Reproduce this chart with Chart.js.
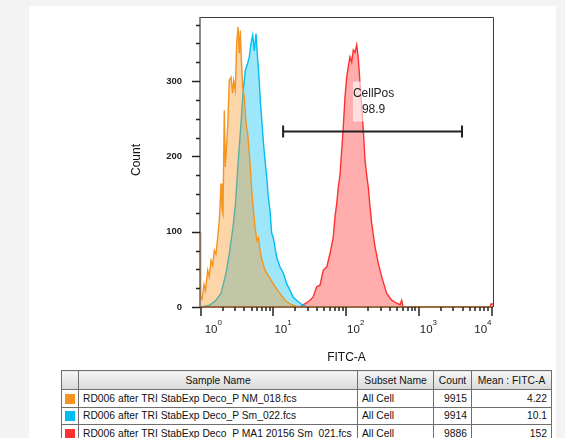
<!DOCTYPE html>
<html>
<head>
<meta charset="utf-8">
<script src="https://cdn.jsdelivr.net/npm/chart.js"></script>
<style>
  html, body { margin: 0; padding: 0; background: #f3f3f3; overflow: hidden; }
  #panel { position: absolute; left: 29px; top: 6px; width: 527px; height: 440px; background: #fff; }
  #wrap { position: absolute; left: 0; top: 0; width: 565px; height: 365px; }
  #stats { position: absolute; left: 61px; top: 370px; width: 490px; table-layout: fixed; border-collapse: collapse;
    font-family: "Liberation Sans", Arial, sans-serif; font-size: 10.3px; color: #111; }
  #stats th, #stats td { border: 1px solid #6e6e6e; padding: 0 4px; white-space: nowrap; overflow: hidden; box-sizing: border-box; }
  #stats th { height: 19px; font-weight: normal; background: linear-gradient(#f6f6f6, #dadada); }
  #stats td { height: 17.5px; }
  #stats td.num { text-align: right; }
  .sw { display: inline-block; width: 10px; height: 10px; vertical-align: middle; margin-left: -1px; }
</style>
</head>
<body>
<div id="panel"></div>
<div id="wrap"><canvas id="histo" width="565" height="365"></canvas></div>
<table id="stats">
  <thead><tr><th style="width:17px"></th><th style="width:279px">Sample Name</th><th style="width:76px">Subset Name</th><th style="width:38px">Count</th><th style="width:80px">Mean : FITC-A</th></tr></thead>
  <tbody id="rows"></tbody>
</table>
<script>
// table
const sampleNames = [
  'RD006 after TRI StabExp Deco_P NM_018.fcs',
  'RD006 after TRI StabExp Deco_P Sm_022.fcs',
  'RD006 after TRI StabExp Deco_P MA1 20156 Sm_021.fcs'
];
const subsetNames = ['All Cell', 'All Cell', 'All Cell'];
const cellCounts = [9915, 9914, 9886];
const meanFitc = ['4.22', '10.1', '152'];
const lineColors = ['#F7941E', '#00BEF2', '#FF3030'];
const fillColors = ['rgba(247,148,30,0.38)', 'rgba(0,190,242,0.38)', 'rgba(255,40,40,0.38)'];

// axes
const xMin = 0.978, xMax = 10486;
const yMax = 385;
const xMajorTicks = [1, 10, 100, 1000, 10000];
const xTickExp = ['0', '1', '2', '3', '4'];
const yMajorTicks = [0, 100, 200, 300];

// gate
const gateRange = [13.6, 3930];
const gateCount = 233;
const gateName = 'CellPos';
const gatePct = '98.9';

// histograms (FITC-A, count)
const orangeX = [0.978, 1.0, 1.042, 1.11, 1.164, 1.248, 1.313, 1.386, 1.462, 1.538, 1.623, 1.713, 1.803, 1.902, 1.963, 2.026, 2.112, 2.18, 2.352, 2.474, 2.611, 2.755, 2.844, 2.991, 3.127, 3.259, 3.396, 3.505, 3.618, 3.782, 3.978, 4.198, 4.431, 4.661, 4.842, 5.077, 5.325, 5.583, 5.948, 6.237, 6.543, 6.97, 7.664, 8.98, 10.52, 12.33, 14.44, 16.92, 20.46, 23.22, 10486];
const orangeY = [100, 13, 10, 30, 22, 49, 40, 62, 55, 75, 70, 93, 115, 164, 130, 124, 261, 186, 239, 301, 305, 284, 300, 288, 350, 372, 337, 367, 330, 292, 279, 244, 230, 204, 181, 150, 128, 106, 88, 92, 75, 62, 49, 38, 27, 18, 9, 4, 1, 0, 0];

const blueX = [0.978, 1.005, 1.301, 1.623, 1.902, 2.228, 2.474, 2.782, 3.01, 3.228, 3.364, 3.584, 3.817, 4.107, 4.403, 4.661, 4.919, 5.192, 5.46, 5.764, 6.044, 6.338, 6.647, 6.97, 7.307, 7.664, 8.088, 8.51, 8.98, 9.475, 9.97, 11.1, 12.33, 13.68, 15.24, 16.92, 18.78, 22.0, 25.78, 29.92, 10486];
const blueY = [0, 0, 2, 9, 18, 45, 71, 106, 137, 183, 208, 244, 284, 314, 323, 332, 350, 361, 340, 363, 332, 305, 270, 244, 217, 195, 173, 146, 128, 98, 92, 66, 53, 45, 31, 22, 13, 7, 2, 0, 0];

const redX = [0.978, 23.0, 25.54, 28.08, 31.87, 35.05, 39.41, 43.75, 48.58, 54.09, 60.05, 66.67, 70.36, 74.25, 78.11, 82.44, 87.0, 91.5, 96.6, 101.9, 107.2, 113.1, 119.4, 125.6, 132.6, 139.9, 147.2, 155.3, 163.9, 172.4, 182.0, 192.0, 202.0, 213.2, 224.9, 249.7, 277.4, 308.9, 361.8, 424.0, 496.6, 551.3, 582.0, 606.5, 9500, 9840, 10486];
const redY = [0, 0, 3, 5, 9, 13, 27, 29, 49, 53, 71, 93, 120, 137, 159, 175, 208, 239, 279, 305, 319, 332, 325, 341, 338, 348, 330, 297, 266, 235, 195, 175, 159, 133, 111, 80, 58, 40, 18, 9, 5, 3, 9, 0, 0, 4, 4];

const rows = document.getElementById('rows');
sampleNames.forEach((name, i) => {
  const tr = document.createElement('tr');
  tr.innerHTML = '<td><span class="sw" style="background:' + lineColors[i] + '"></span></td>' +
    '<td>' + name + '</td><td>' + subsetNames[i] + '</td>' +
    '<td class="num">' + cellCounts[i] + '</td><td class="num">' + meanFitc[i] + '</td>';
  rows.appendChild(tr);
});

const pts = (xs, ys) => xs.map((v, i) => ({ x: v, y: ys[i] }));

const decor = {
  id: 'decor',
  afterDatasetsDraw(chart) {
    const { ctx, chartArea: a, scales: { x, y } } = chart;
    const font = '"Liberation Sans", Arial, sans-serif';
    ctx.save();

    // frame
    ctx.strokeStyle = '#3c3c3c';
    ctx.lineWidth = 1;
    ctx.beginPath();
    ctx.moveTo(a.left, a.top + 0.5); ctx.lineTo(a.right + 0.5, a.top + 0.5);
    ctx.lineTo(a.right + 0.5, a.bottom);
    ctx.stroke();
    ctx.strokeStyle = '#666';
    ctx.lineWidth = 1.5;
    ctx.beginPath();
    ctx.moveTo(a.left, a.top); ctx.lineTo(a.left, a.bottom);
    ctx.stroke();

    // baseline where the histograms run along zero
    ctx.strokeStyle = '#9a6a40';
    ctx.lineWidth = 2;
    ctx.beginPath();
    ctx.moveTo(a.left, a.bottom); ctx.lineTo(a.right, a.bottom);
    ctx.stroke();

    // x ticks
    ctx.strokeStyle = '#222';
    ctx.lineWidth = 1.5;
    xMajorTicks.forEach(v => {
      const px = Math.round(x.getPixelForValue(v));
      ctx.beginPath(); ctx.moveTo(px, a.bottom); ctx.lineTo(px, a.bottom + 9); ctx.stroke();
      if (v < 10000) {
        for (let m = 2; m <= 9; m++) {
          const mx = Math.round(x.getPixelForValue(v * m));
          ctx.beginPath(); ctx.moveTo(mx, a.bottom); ctx.lineTo(mx, a.bottom + 4); ctx.stroke();
        }
      }
    });

    // y ticks
    for (let v = 0; v <= yMax; v += 25) {
      const py = Math.round(y.getPixelForValue(v)) + 0.5;
      const len = v % 100 === 0 ? 8 : 4;
      ctx.beginPath(); ctx.moveTo(a.left - len, py); ctx.lineTo(a.left, py); ctx.stroke();
    }

    // y labels
    ctx.fillStyle = '#222';
    ctx.font = 'bold 9.5px ' + font;
    ctx.textAlign = 'right';
    ctx.textBaseline = 'middle';
    yMajorTicks.forEach(v => ctx.fillText(String(v), a.left - 18, y.getPixelForValue(v)));

    // x labels: 10 with superscript exponent
    ctx.textBaseline = 'alphabetic';
    xMajorTicks.forEach((v, i) => {
      const px = x.getPixelForValue(v);
      ctx.font = '11.5px ' + font;
      const w10 = ctx.measureText('10').width;
      ctx.font = '8px ' + font;
      const wE = ctx.measureText(xTickExp[i]).width;
      let left = px + 1;
      if (i === 0) left = px + 4;
      if (i === xMajorTicks.length - 1) left = px - w10 - wE;
      ctx.textAlign = 'left';
      ctx.font = '11.5px ' + font;
      ctx.fillText('10', left, 333);
      ctx.font = '8px ' + font;
      ctx.fillText(xTickExp[i], left + w10, 325);
    });

    // axis titles
    ctx.font = '12px ' + font;
    ctx.fillStyle = '#111';
    ctx.textAlign = 'center';
    ctx.textBaseline = 'middle';
    ctx.fillText('FITC-A', (a.left + a.right) / 2, 358);
    ctx.save();
    ctx.translate(137, 160);
    ctx.rotate(-Math.PI / 2);
    ctx.fillText('Count', 0, 0);
    ctx.restore();

    // gate
    const gx1 = x.getPixelForValue(gateRange[0]);
    const gx2 = x.getPixelForValue(gateRange[1]);
    const gy = Math.round(y.getPixelForValue(gateCount)) + 0.5;
    ctx.strokeStyle = '#222';
    ctx.lineWidth = 2;
    ctx.beginPath();
    ctx.moveTo(gx1, gy); ctx.lineTo(gx2, gy);
    ctx.moveTo(gx1, gy - 6); ctx.lineTo(gx1, gy + 6);
    ctx.moveTo(gx2, gy - 6); ctx.lineTo(gx2, gy + 6);
    ctx.stroke();

    const cx = x.getPixelForValue(Math.sqrt(gateRange[0] * gateRange[1])) + 1;
    ctx.font = '12px ' + font;
    const tw = ctx.measureText(gateName).width;
    ctx.fillStyle = 'rgba(255,255,255,0.6)';
    ctx.fillRect(cx - tw / 2, gy - 50, tw, 40);
    ctx.fillStyle = '#222';
    ctx.fillText(gateName, cx, gy - 38);
    ctx.fillText(gatePct, cx, gy - 22);

    ctx.restore();
  }
};

new Chart(document.getElementById('histo'), {
  type: 'line',
  data: {
    datasets: [
      { data: pts(orangeX, orangeY), borderColor: lineColors[0], backgroundColor: fillColors[0], order: 1 },
      { data: pts(blueX, blueY), borderColor: lineColors[1], backgroundColor: fillColors[1], order: 2 },
      { data: pts(redX, redY), borderColor: lineColors[2], backgroundColor: fillColors[2], order: 3 }
    ]
  },
  options: {
    responsive: false,
    animation: false,
    parsing: false,
    layout: { padding: { left: 0, right: 72, top: 17, bottom: 0 } },
    elements: {
      line: { borderWidth: 1.4, tension: 0, fill: 'origin' },
      point: { radius: 0 }
    },
    plugins: { legend: { display: false }, tooltip: { enabled: false } },
    scales: {
      x: {
        type: 'logarithmic', min: xMin, max: xMax,
        ticks: { display: false }, grid: { display: false }, border: { display: false },
        afterFit: s => { s.height = 58; }
      },
      y: {
        type: 'linear', min: 0, max: yMax,
        ticks: { display: false }, grid: { display: false }, border: { display: false },
        afterFit: s => { s.width = 200; }
      }
    }
  },
  plugins: [decor]
});
</script>
</body>
</html>
